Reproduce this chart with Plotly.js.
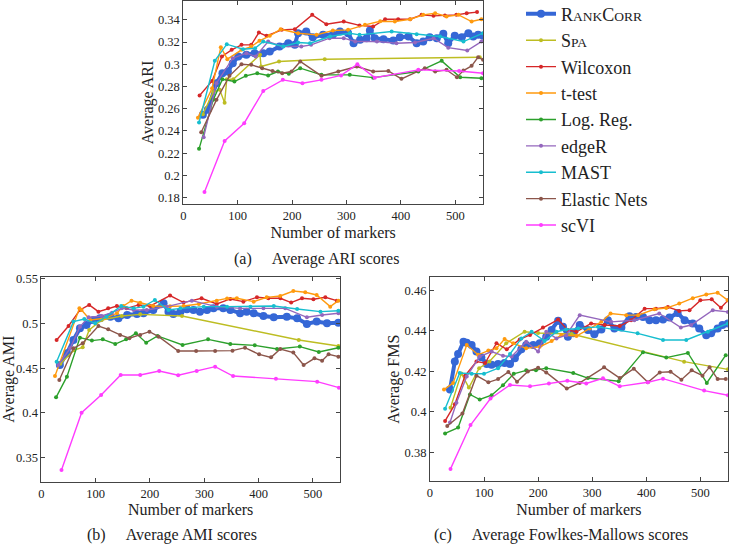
<!DOCTYPE html>
<html><head><meta charset="utf-8">
<script src="https://cdn.plot.ly/plotly-3.0.1.min.js"></script>
<style>html,body{margin:0;padding:0;background:#fff}#chart{width:729px;height:546px}</style>
</head><body><div id="chart"></div>
<script>
// ---------- (a) Average ARI ----------
const ariRankCorrX = [36,45,61,72,82,91,101,116,131,147,159,177,193,205,211,226,238,257,275,288,303,313,325,337,343,352,368,386,398,414,429,441,453,466,478,487,499,512,524,533,542,551];
const ariRankCorrY = [0.2545,0.259,0.283,0.292,0.2935,0.301,0.307,0.3085,0.31,0.31,0.3115,0.316,0.319,0.3175,0.328,0.3295,0.3244,0.3265,0.3265,0.3295,0.328,0.319,0.322,0.3235,0.3304,0.3235,0.3226,0.3214,0.3244,0.325,0.319,0.3205,0.3244,0.3235,0.3274,0.319,0.3256,0.3244,0.328,0.325,0.3265,0.3256];
const ariSpaX = [36,55,67,76,80,92,141,143,176,260,545];
const ariSpaY = [0.255,0.275,0.277,0.2655,0.2866,0.2866,0.3085,0.298,0.3025,0.3046,0.3064];
const ariWilcoxonX = [30,53,71,89,107,125,139,153,181,205,237,263,295,324,349,371,395,417,438,460,481,502,521,540];
const ariWilcoxonY = [0.272,0.285,0.307,0.313,0.3175,0.3175,0.3286,0.3256,0.331,0.3316,0.3445,0.336,0.3385,0.335,0.334,0.3406,0.3406,0.3406,0.3445,0.3436,0.344,0.3445,0.346,0.347];
const ariTtestX = [27,53,69,81,107,125,140,159,179,211,245,275,303,334,362,389,417,441,463,484,506,530,548];
const ariTtestY = [0.252,0.2785,0.3154,0.3046,0.313,0.316,0.3211,0.3256,0.3316,0.328,0.3265,0.3304,0.331,0.3355,0.3388,0.3385,0.3406,0.3445,0.346,0.343,0.3445,0.3385,0.3406];
const ariLogRegX = [29,55,72,94,115,136,156,174,194,215,254,306,349,432,475,509,548];
const ariLogRegY = [0.2239,0.268,0.2866,0.2845,0.2896,0.292,0.29,0.2935,0.2914,0.2965,0.2905,0.2905,0.288,0.2935,0.3031,0.2884,0.2875];
const ariEdgeRX = [37.5,61,91,116,133,156,183,217,235,269,295,316,356,392,426,460,487,522,548];
const ariEdgeRY = [0.2344,0.283,0.3055,0.31,0.307,0.3205,0.316,0.316,0.3175,0.3235,0.3235,0.3205,0.3205,0.319,0.3196,0.3235,0.315,0.3124,0.3205];
const ariMastX = [29,58,80,110,132,147,184,211,233,270,306,324,383,429,472,515,551];
const ariMastY = [0.2476,0.3031,0.3181,0.3136,0.3145,0.3205,0.316,0.3196,0.319,0.325,0.328,0.3265,0.3295,0.327,0.325,0.3205,0.328];
const ariElasticX = [33,61,85,107,125,145,164,182,199,215,254,285,319,349,377,401,444,463,484,503,515,530,542,551];
const ariElasticY = [0.2389,0.268,0.2896,0.3001,0.2995,0.2965,0.294,0.292,0.2935,0.3025,0.2896,0.2935,0.298,0.2935,0.294,0.2869,0.2965,0.2935,0.295,0.2884,0.2944,0.2986,0.3064,0.304];
const ariScviX = [39,76,112,147,183,219,254,290,320,352,432,507,551];
const ariScviY = [0.185,0.231,0.247,0.276,0.286,0.283,0.286,0.290,0.300,0.288,0.295,0.294,0.292];

// ---------- (b) Average AMI ----------
const amiRankCorrX = [34,47,59,71,83,96,108,127,142,158,176,188,206,225,234,243,256,268,280,292,305,317,335,348,366,378,391,409,428,452,471,489,507,526,547];
const amiRankCorrY = [0.4535,0.4665,0.4814,0.4944,0.4981,0.5037,0.5056,0.5074,0.5056,0.5093,0.5104,0.5112,0.5149,0.5223,0.513,0.5104,0.513,0.5156,0.5149,0.513,0.5149,0.5167,0.5167,0.5149,0.5112,0.513,0.5112,0.5082,0.5067,0.5074,0.5056,0.4993,0.5019,0.5,0.5007];
const amiSpaX = [35,60,76,88,111,148,182,259,474,547];
const amiSpaY = [0.455,0.47,0.4732,0.4926,0.5037,0.5082,0.51,0.5082,0.4814,0.4747];
const amiWilcoxonX = [28,50,71,88,105,123,139,157,179,200,237,262,295,323,348,372,397,418,440,460,480,501,523,544];
const amiWilcoxonY = [0.4814,0.497,0.5149,0.5205,0.513,0.5167,0.5193,0.5167,0.5205,0.5193,0.5309,0.5231,0.5279,0.5216,0.5272,0.5242,0.529,0.5279,0.5279,0.5231,0.5279,0.5268,0.529,0.5253];
const amiTtestX = [25,70,74,90,117,139,151,166,182,206,237,262,290,323,342,360,391,415,440,464,486,507,532,547];
const amiTtestY = [0.4412,0.5167,0.5149,0.5037,0.5056,0.5112,0.5193,0.5253,0.523,0.5193,0.519,0.5193,0.5216,0.5253,0.5278,0.5279,0.5242,0.529,0.5305,0.536,0.5346,0.5316,0.5186,0.5253];
const amiLogRegX = [27,47,71,93,113,136,156,174,193,214,260,307,348,393,434,476,511,547];
const amiLogRegY = [0.4174,0.4405,0.484,0.4807,0.4821,0.4769,0.4821,0.4888,0.4784,0.4859,0.4758,0.4821,0.4769,0.4754,0.4714,0.474,0.468,0.4728];
const amiEdgeRX = [31,53,71,87,111,130,148,170,194,231,277,323,366,409,449,489,517,547];
const amiEdgeRY = [0.4535,0.4721,0.4963,0.5067,0.5082,0.5119,0.5167,0.5149,0.5149,0.5186,0.5253,0.5186,0.5167,0.5167,0.5167,0.5067,0.5093,0.5112];
const amiMastX = [28,59,79,99,120,147,170,188,209,234,256,299,342,385,428,471,514,547];
const amiMastY = [0.4572,0.5019,0.5048,0.5,0.5074,0.5193,0.5167,0.5186,0.526,0.5149,0.5167,0.5186,0.5186,0.5186,0.5193,0.516,0.513,0.5141];
const amiElasticX = [33,59,76,105,123,145,162,182,199,216,252,285,320,352,375,401,423,440,464,483,503,517,529,547];
const amiElasticY = [0.4368,0.4721,0.4777,0.497,0.4933,0.487,0.4833,0.487,0.4907,0.4851,0.4691,0.4691,0.4691,0.4695,0.4728,0.4654,0.462,0.4714,0.4673,0.4535,0.4609,0.4583,0.4654,0.4628];
const amiScviX = [37,74,110,146,182,217,252,286,320,353,432,508,548];
const amiScviY = [0.3363,0.4003,0.42,0.4423,0.4423,0.4468,0.442,0.4468,0.4516,0.4412,0.4382,0.4349,0.4282];

// ---------- (c) Average Fowlkes-Mallows ----------
const fmsRankCorrX = [37,46,52,62,68,77,86,95,105,114,126,138,148,157,169,178,191,203,215,225,237,246,255,265,277,292,304,317,329,341,354,369,381,394,406,418,431,443,458,471,486,498,511,520,532,541,551];
const fmsRankCorrY = [0.411,0.4249,0.4286,0.4347,0.4342,0.4331,0.4298,0.427,0.4237,0.4233,0.4236,0.4241,0.4237,0.4265,0.4309,0.4331,0.4331,0.4339,0.4371,0.4404,0.445,0.442,0.4371,0.4388,0.4429,0.4404,0.4384,0.4407,0.4453,0.4412,0.4417,0.4473,0.4469,0.4469,0.4453,0.4453,0.4456,0.4466,0.4489,0.4453,0.4437,0.4412,0.4379,0.4388,0.4412,0.4429,0.4437];
const fmsSpaX = [38,58,72,91,110,141,175,200,262,470,551];
const fmsSpaY = [0.402,0.419,0.412,0.4216,0.4249,0.4339,0.4396,0.439,0.4385,0.4248,0.421];
const fmsWilcoxonX = [28,46,65,86,102,123,142,166,185,209,237,255,271,298,323,351,372,397,418,440,461,480,500,521,538,551];
const fmsWilcoxonY = [0.3955,0.4037,0.4179,0.4249,0.4241,0.4339,0.4309,0.4358,0.438,0.4417,0.4456,0.4404,0.4396,0.4437,0.4429,0.4424,0.4453,0.451,0.451,0.4518,0.4499,0.4502,0.4551,0.4556,0.4515,0.4551];
const fmsTtestX = [26,43,68,89,108,123,138,154,178,203,225,243,271,295,317,334,363,385,415,437,461,486,511,532,551];
const fmsTtestY = [0.411,0.4143,0.433,0.4282,0.4303,0.4314,0.436,0.4339,0.4314,0.4322,0.435,0.438,0.4375,0.4412,0.4445,0.4486,0.4478,0.4478,0.4507,0.4513,0.4535,0.4562,0.458,0.4589,0.4551];
const fmsLogRegX = [28,52,74,92,114,135,155,178,196,215,265,292,349,394,437,477,512,547];
const fmsLogRegY = [0.3893,0.3922,0.4086,0.4061,0.4082,0.4131,0.4188,0.4205,0.4206,0.4216,0.4192,0.4167,0.4151,0.4295,0.4268,0.4291,0.4143,0.428];
const fmsEdgeRX = [37,49,68,92,114,135,151,178,200,215,234,252,277,335,378,424,464,483,523,551];
const fmsEdgeRY = [0.3947,0.4045,0.4175,0.4273,0.4298,0.4277,0.4273,0.4347,0.4298,0.4396,0.4363,0.4379,0.4478,0.4445,0.4453,0.4486,0.4417,0.4429,0.4502,0.4494];
const fmsMastX = [28,55,77,100,126,148,169,188,212,234,252,274,311,384,431,474,514,551];
const fmsMastY = [0.4015,0.4192,0.4188,0.4188,0.4216,0.4286,0.4363,0.4396,0.435,0.4396,0.4407,0.4412,0.442,0.4388,0.4355,0.4355,0.4396,0.4437];
const fmsElasticX = [32,60,86,108,126,145,161,181,200,215,253,277,322,351,377,403,425,445,465,484,504,517,532,547];
const fmsElasticY = [0.393,0.3992,0.4179,0.4146,0.4162,0.4197,0.4149,0.42,0.4218,0.4195,0.4115,0.4143,0.422,0.4167,0.4213,0.4146,0.4195,0.4198,0.4159,0.4205,0.4179,0.4221,0.4162,0.4162];
const fmsScviX = [38,75,112,148,185,220,254,289,320,351,403,431,507,551];
const fmsScviY = [0.3718,0.3935,0.4066,0.4133,0.4126,0.414,0.4154,0.414,0.4166,0.4126,0.4146,0.4164,0.4105,0.4082];

// ---------- labels & ticks ----------
const methods = ['RankCorr','Spa','Wilcoxon','t-test','Log. Reg.','edgeR','MAST','Elastic Nets','scVI'];
const legendLabels = [
  'R<span style="font-size:13.5px">ANK</span>C<span style="font-size:13.5px">ORR</span>',
  'S<span style="font-size:13.5px">PA</span>',
  'Wilcoxon','t-test','Log. Reg.','edgeR','MAST','Elastic Nets','scVI'];
const GAP = '\u00a0\u00a0\u00a0\u00a0\u00a0';
const captions = ['(a)' + GAP + 'Average ARI scores', '(b)' + GAP + 'Average AMI scores', '(c)' + GAP + 'Average Fowlkes-Mallows scores'];
const yTitles = ['Average ARI','Average AMI','Average FMS'];
const xTitle = 'Number of markers';
const xTicks = [0,100,200,300,400,500];
const ariTicks = [0.18,0.2,0.22,0.24,0.26,0.28,0.3,0.32,0.34];
const amiTicks = [0.35,0.4,0.45,0.5,0.55];
const fmsTicks = [0.38,0.4,0.42,0.44,0.46];

const colors = ['#3567d6','#bdbd22','#d62728','#ff9a0e','#2ca02c','#9467bd','#17becf','#8c564b','#ff3cff'];

const panels = [
  {xa:'x', ya:'y', series:[[ariRankCorrX,ariRankCorrY],[ariSpaX,ariSpaY],[ariWilcoxonX,ariWilcoxonY],[ariTtestX,ariTtestY],[ariLogRegX,ariLogRegY],[ariEdgeRX,ariEdgeRY],[ariMastX,ariMastY],[ariElasticX,ariElasticY],[ariScviX,ariScviY]]},
  {xa:'x2', ya:'y2', series:[[amiRankCorrX,amiRankCorrY],[amiSpaX,amiSpaY],[amiWilcoxonX,amiWilcoxonY],[amiTtestX,amiTtestY],[amiLogRegX,amiLogRegY],[amiEdgeRX,amiEdgeRY],[amiMastX,amiMastY],[amiElasticX,amiElasticY],[amiScviX,amiScviY]]},
  {xa:'x3', ya:'y3', series:[[fmsRankCorrX,fmsRankCorrY],[fmsSpaX,fmsSpaY],[fmsWilcoxonX,fmsWilcoxonY],[fmsTtestX,fmsTtestY],[fmsLogRegX,fmsLogRegY],[fmsEdgeRX,fmsEdgeRY],[fmsMastX,fmsMastY],[fmsElasticX,fmsElasticY],[fmsScviX,fmsScviY]]}
];

const traces = [];
panels.forEach((p, pi) => {
  p.series.forEach((s, i) => {
    const thick = i === 0;
    traces.push({
      x: s[0], y: s[1], xaxis: p.xa, yaxis: p.ya,
      type: 'scatter', mode: 'lines+markers',
      name: legendLabels[i], legendgroup: methods[i],
      showlegend: pi === 0,
      line: {color: colors[i], width: thick ? 4 : 1.4},
      marker: {color: colors[i], size: thick ? 8 : 4}
    });
  });
});

const FONT = 'Liberation Serif, DejaVu Serif, serif';
function axis(extra) {
  return Object.assign({
    showline: true, linecolor: '#444', linewidth: 1, mirror: 'ticks',
    ticks: 'inside', ticklen: 4, tickcolor: '#444', showgrid: false, zeroline: false,
    tickfont: {family: FONT, size: 12.5, color: '#222'}, automargin: false
  }, extra);
}
const titleFont = {family: FONT, size: 16, color: '#222'};
const capFont = {family: FONT, size: 16, color: '#222'};

const layout = {
  width: 729, height: 546,
  margin: {l: 0, r: 0, t: 0, b: 0, autoexpand: false},
  paper_bgcolor: '#fff', plot_bgcolor: '#fff',
  font: {family: FONT, color: '#222'},
  showlegend: true,
  legend: {x: 521/729, y: 1.008, xanchor: 'left', yanchor: 'top', traceorder: 'normal',
           font: {family: FONT, size: 18, color: '#222'}, bgcolor: 'rgba(0,0,0,0)', itemwidth: 30},
  xaxis: axis({domain: [0.2514, 0.6626], range: [0, 551], tickvals: xTicks, anchor: 'y',
               title: {text: xTitle, font: titleFont, standoff: 4}}),
  yaxis: axis({domain: [0.6264, 0.9982], range: [0.1743, 0.357], tickvals: ariTicks, anchor: 'x',
               title: {text: yTitles[0], font: titleFont, standoff: 0}}),
  xaxis2: axis({domain: [0.0568, 0.4664], range: [0, 550], tickvals: xTicks, anchor: 'y2',
               title: {text: xTitle, font: titleFont, standoff: 4}}),
  yaxis2: axis({domain: [0.1178, 0.4932], range: [0.3233, 0.552], tickvals: amiTicks, anchor: 'x2',
               title: {text: yTitles[1], font: titleFont, standoff: 0}}),
  xaxis3: axis({domain: [0.5898, 0.9985], range: [0, 551], tickvals: xTicks, anchor: 'y3',
               title: {text: xTitle, font: titleFont, standoff: 4}}),
  yaxis3: axis({domain: [0.119, 0.4921], range: [0.3658, 0.4665], tickvals: fmsTicks, anchor: 'x3',
               title: {text: yTitles[2], font: titleFont, standoff: 0}}),
  annotations: [
    {text: captions[0], x: 316/729, y: 1 - 259/546, xref: 'paper', yref: 'paper', xanchor: 'center', yanchor: 'middle', showarrow: false, font: capFont},
    {text: captions[1], x: 171.5/729, y: 1 - 535/546, xref: 'paper', yref: 'paper', xanchor: 'center', yanchor: 'middle', showarrow: false, font: capFont},
    {text: captions[2], x: 561/729, y: 1 - 535/546, xref: 'paper', yref: 'paper', xanchor: 'center', yanchor: 'middle', showarrow: false, font: capFont}
  ]
};

Plotly.newPlot('chart', traces, layout, {staticPlot: true, displayModeBar: false});
</script></body></html>
